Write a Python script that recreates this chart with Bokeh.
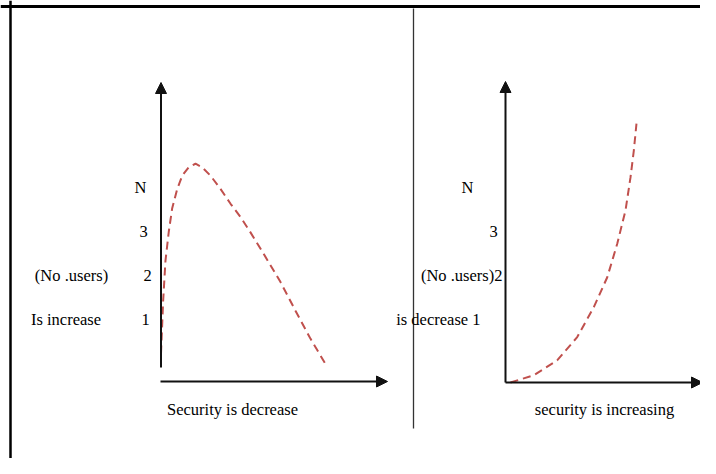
from bokeh.plotting import figure
from bokeh.models import Range1d, Arrow, NormalHead, Span
from bokeh.embed import file_html
from bokeh.resources import INLINE
from bokeh.core.properties import value

# ---- data (conceptual units) ----
left_security = [0.0, 0.13, 0.27, 0.47, 0.67, 0.98, 1.28, 1.67, 2.08, 2.48, 2.98,
                 3.58, 4.19, 4.79, 5.39, 6.19, 7.20, 8.10, 9.01, 9.97]
left_users = [0.23, 1.43, 2.34, 3.0, 3.52, 3.97, 4.27, 4.46, 4.54, 4.46, 4.27,
              3.97, 3.63, 3.33, 2.98, 2.49, 1.85, 1.20, 0.56, -0.05]

right_security = [0.30, 1.70, 3.11, 4.32, 5.32, 6.13, 6.73, 7.23, 7.53, 7.73, 7.89]
right_users = [-0.43, -0.27, 0.07, 0.60, 1.28, 1.96, 2.72, 3.48, 4.23, 4.84, 5.45]

tick_values = [1, 2, 3, 4]
tick_labels = ["1", "2", "3", "N"]

left_title = ["(No .users)", "Is increase"]
right_title = ["(No .users)", "is decrease"]
left_xlabel = "Security is decrease"
right_xlabel = "security is increasing"

# ---- layout helpers (picture pixels -> data units) ----
W, H = 700, 458
PXX, PXY = 16.6, 44.0
L0, R0, Y0 = 160.5, 505.0, 363.0
def lx(px): return (px - L0) / PXX
def rx(px): return (px - R0) / PXX
def vy(py): return (Y0 - py) / PXY

p = figure(width=W, height=H, output_backend="svg", toolbar_location=None,
           x_range=Range1d(lx(0), lx(W)), y_range=Range1d(vy(H), vy(0)),
           min_border=0, outline_line_color=None)
p.extra_x_ranges = {"right": Range1d(rx(0), rx(W))}
p.xaxis.visible = False
p.yaxis.visible = False
p.grid.visible = False
p.background_fill_color = "white"
p.border_fill_color = "white"

# frame and divider
p.add_layout(Span(location=lx(10), dimension="height", line_color="black", line_width=2.5))
p.add_layout(Span(location=vy(6), dimension="width", line_color="black", line_width=3))
p.segment(x0=[lx(413)], y0=[vy(8)], x1=[lx(413)], y1=[vy(428)],
          line_color="#333333", line_width=1.3)

AX = "#111111"
def arrow(x0, y0, x1, y1, rng="default"):
    p.add_layout(Arrow(end=NormalHead(size=11, fill_color=AX, line_color=AX, line_width=1),
                       x_start=x0, y_start=y0, x_end=x1, y_end=y1,
                       line_color=AX, line_width=2, x_range_name=rng))

# left axes
arrow(0, vy(367), 0, vy(82))
arrow(lx(160), vy(381), lx(387), vy(381))
# right axes
arrow(0, vy(382), 0, vy(81), "right")
arrow(0, vy(382), rx(702), vy(382), "right")

# curves
CURVE = "#c0504d"
p.line(left_security, left_users, line_color=CURVE, line_width=2, line_dash="8 5")
p.line(right_security, right_users, line_color=CURVE, line_width=2, line_dash="8 5",
       x_range_name="right")

FONT = value("Liberation Serif")
FS = "16.5px"
def txt(x, y, s, align="center", rng="default"):
    p.text(x=[x], y=[y], text=[s], text_font=FONT, text_font_size=FS,
           text_align=align, text_baseline="middle", text_color="black",
           x_range_name=rng)

# left tick labels
left_tick_x = [lx(145), lx(147), lx(143), lx(140)]
for xv, yv, lab in zip(left_tick_x, tick_values, tick_labels):
    txt(xv, yv, lab)
txt(lx(71), 2, left_title[0])
txt(lx(65.5), 1, left_title[1])
txt(lx(232), vy(409), left_xlabel)

# right tick labels
txt(rx(480), 1, right_title[1] + " " + tick_labels[0], align="right", rng="right")
txt(rx(502), 2, right_title[0] + tick_labels[1], align="right", rng="right")
txt(rx(493), 3, tick_labels[2], rng="right")
txt(rx(467), 4, tick_labels[3], rng="right")
txt(rx(604), vy(409), right_xlabel, rng="right")

open("out.html", "w").write(file_html(p, INLINE))
